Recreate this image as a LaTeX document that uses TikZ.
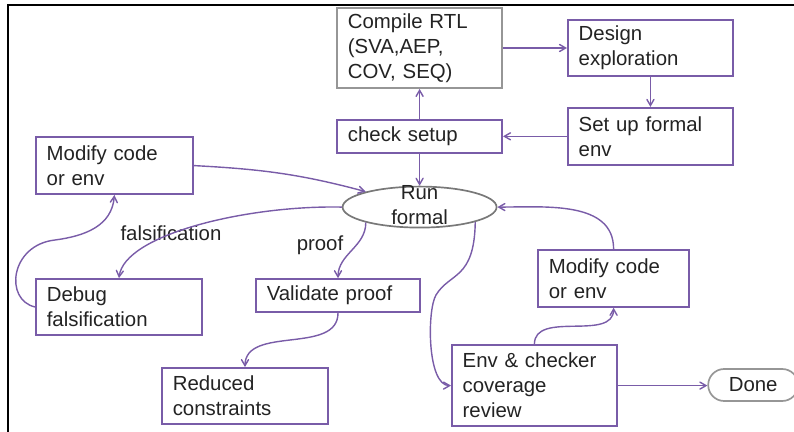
\documentclass[tikz,border=0pt]{standalone}
\usepackage{fontspec}
\setmainfont{Liberation Sans}
\usepackage{tikz}
\usetikzlibrary{arrows,shapes,positioning,calc}
\usepackage{xcolor}
\definecolor{fcpurple}{RGB}{121,92,168}
\definecolor{fcgray}{RGB}{150,150,150}
\definecolor{fcdark}{RGB}{120,120,120}
\definecolor{fctext}{RGB}{35,35,35}
\newcommand{\flowfont}{\fontsize{14.5}{17.8}\selectfont}
\tikzstyle{arrow} = [line width=1pt,->,>=angle 60,color=fcpurple]
\tikzstyle{flowbox} = [rectangle, draw=fcpurple, line width=1.3pt, fill=white, inner xsep=0.27cm, align=left, text=fctext, font=\flowfont]

\begin{document}
\begin{tikzpicture}
\useasboundingbox (0,0) rectangle (19.85,-10.8);
\clip (0,0) rectangle (19.85,-10.8);
\draw[line width=1.6pt] (0.2,-10.8) -- (0.2,-0.125) -- (19.85,-0.125);

% Setup loop
\node[flowbox, draw=fcgray, text width=3.585cm, minimum height=2cm] (compile) at (10.49,-1.2) {Compile RTL\\(SVA,AEP,\\COV, SEQ)};
\node[flowbox, text width=3.585cm, minimum height=1.4cm, right=1.6cm of compile] (design) {Design\\exploration};
\node[flowbox, text width=3.585cm, minimum height=1.425cm, below=0.75cm of design] (setup) {Set up formal\\env};
\node[flowbox, text width=3.585cm, minimum height=0.825cm, left=1.6cm of setup] (check) {check setup};

% Run formal
\node[ellipse, draw=fcdark, line width=1.2pt, fill=white, minimum width=3.85cm, minimum height=1.025cm, inner sep=0pt, below=0.8cm of check] (run) {};
\node[align=center, text=fctext, font=\flowfont] (runtext) at ($(run.center)+(0,0.05)$) {Run\\formal};

% Falsification side
\node[flowbox, text width=3.385cm, minimum height=1.425cm] (modleft) at (2.86,-4.14) {Modify code\\or env};
\node[flowbox, text width=3.61cm, minimum height=1.4cm] (debug) at (2.975,-7.675) {Debug\\falsification};
\node[text=fctext, font=\flowfont] (falslabel) at (4.275,-5.825) {falsification};

% Proof side
\node[flowbox, text width=3.56cm, minimum height=0.825cm] (validate) at (8.45,-7.39) {Validate proof};
\node[flowbox, text width=3.61cm, minimum height=1.4cm] (reduced) at (6.125,-9.9) {Reduced\\constraints};
\node[text=fctext, font=\flowfont] (prooflabel) at (8.0,-6.125) {proof};

% Coverage side
\node[flowbox, text width=3.235cm, minimum height=1.425cm] (modright) at (15.34,-6.96) {Modify code\\or env};
\node[flowbox, text width=3.585cm, minimum height=2.025cm] (env) at (13.36,-9.64) {Env \& checker\\coverage\\review};
\node[rectangle, rounded corners=0.4cm, draw=fcgray, line width=1.2pt, fill=white, minimum width=2.25cm, minimum height=0.8cm, text=fctext, font=\flowfont] (done) at (18.83,-9.625) {Done};

% Connectors
\draw[arrow] (compile) -- (design);
\draw[arrow] (design) -- (setup);
\draw[arrow] (setup) -- (check);
\draw[arrow] (check) -- (compile);
\draw[arrow] (check) -- (run);
\draw[arrow] (modleft.east) to[out=-3,in=165] (run.164);
\draw[arrow] (run.west) .. controls +(-2.33,0.05) and +(0.125,1.1) .. (debug.north);
\draw[arrow] (debug.west) .. controls +(-0.775,0.175) and +(-1.125,-0.125) .. (1.375,-6.0)
  .. controls +(0.75,0.1) and +(-0.06,-0.775) .. (modleft.south);
\draw[arrow] (run.196) to[out=-90,in=90] (validate.north);
\draw[arrow] (validate.south) to[out=-90,in=90] (reduced.north);
\draw[arrow] (run.-15) .. controls +(-0.025,-1.45) and +(0.35,0.575) .. (10.9,-7.375)
  .. controls +(-0.225,-0.375) and +(-0.6,0) .. (env.west);
\draw[arrow] (env.north) to[out=90,in=-90] (modright.south);
\draw[arrow] (modright.north) to[out=90,in=0] (run.east);
\draw[arrow] (env.east) -- (env.east -| done.west);
\end{tikzpicture}
\end{document}
